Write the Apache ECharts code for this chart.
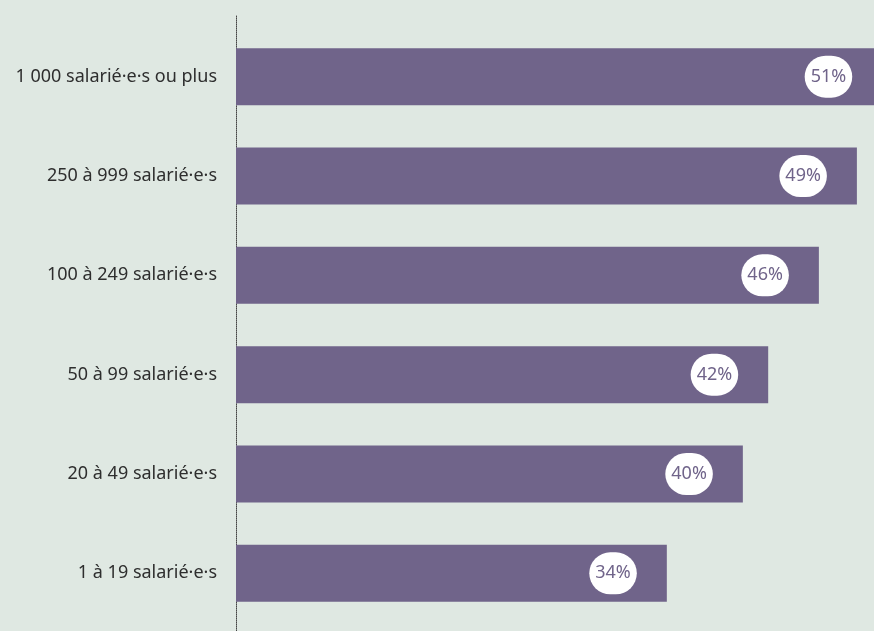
<!DOCTYPE html>
<html>
<head>
<meta charset="utf-8">
<script src="https://cdn.jsdelivr.net/npm/echarts@6/dist/echarts.min.js"></script>
<style>
  html, body { margin: 0; padding: 0; background: #dfe8e2; }
  #chart { width: 874px; height: 631px; }
</style>
</head>
<body>
<div id="chart"></div>
<script>
// Share by company size (percent)
const categories = [
  '1 000 salarié·e·s ou plus',
  '250 à 999 salarié·e·s',
  '100 à 249 salarié·e·s',
  '50 à 99 salarié·e·s',
  '20 à 49 salarié·e·s',
  '1 à 19 salarié·e·s'
];
const values = [51, 49, 46, 42, 40, 34];

const purple = '#70648a';
const chart = echarts.init(document.getElementById('chart'), null, { renderer: 'canvas' });

chart.setOption({
  backgroundColor: '#dfe8e2',
  animation: false,
  textStyle: { fontFamily: 'Noto Sans' },
  grid: [
    { left: 236, right: 0, top: 27, bottom: 8, containLabel: false },
    // taller grid only used to draw the full-height dotted axis line
    { left: 236, right: 0, top: 15, bottom: 0, containLabel: false }
  ],
  xAxis: [
    { type: 'value', gridIndex: 0, min: 0, max: 50.35, show: false },
    { type: 'value', gridIndex: 1, min: 0, max: 1, show: false }
  ],
  yAxis: [
    {
      type: 'category',
      gridIndex: 0,
      data: categories,
      inverse: true,
      axisLine: { show: false },
      axisTick: { show: false },
      axisLabel: {
        margin: 19,
        fontSize: 18,
        color: '#2e2e2e',
        fontFamily: 'Noto Sans'
      }
    },
    {
      type: 'value',
      gridIndex: 1,
      axisLine: { show: true, lineStyle: { type: 'dotted', color: '#444', width: 1 } },
      axisTick: { show: false },
      axisLabel: { show: false },
      splitLine: { show: false }
    }
  ],
  series: [{
    type: 'bar',
    xAxisIndex: 0,
    yAxisIndex: 0,
    data: values,
    clip: false,
    barCategoryGap: '42.6%',
    itemStyle: { color: purple },
    label: {
      show: true,
      position: 'insideRight',
      distance: 30,
      formatter: '{c}%',
      color: purple,
      fontSize: 18,
      lineHeight: 20,
      fontFamily: 'Noto Sans',
      backgroundColor: '#ffffff',
      padding: [12, 6, 10, 6],
      borderRadius: 22
    }
  }]
});
</script>
</body>
</html>
